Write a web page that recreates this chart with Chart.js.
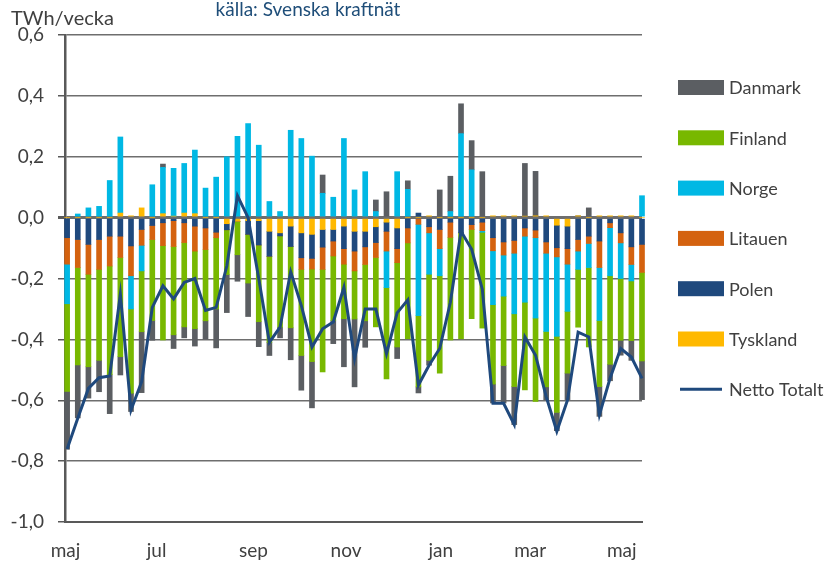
<!DOCTYPE html>
<html>
<head>
<meta charset="utf-8">
<script src="https://cdn.jsdelivr.net/npm/chart.js@4/dist/chart.umd.min.js"></script>
<style>
  html, body { margin: 0; padding: 0; background: #fff; }
  #wrap { width: 831px; height: 567px; position: relative; }
</style>
</head>
<body>
<div id="wrap"><canvas id="flowChart"></canvas></div>
<script>
// Weekly net exchange per country, TWh/vecka (week 0 = beginning of May)
const tyskland = [0, 0, 0, 0, 0, 0.015, 0.006, 0.032, 0, 0.013,
    0.005, 0.015, 0.013, 0, 0, -0.02, -0.012, -0.01, -0.01, -0.045,
    -0.05, -0.028, -0.05, -0.055, -0.039, -0.039, -0.028, -0.045, -0.045, -0.03,
    -0.015, -0.034, 0, 0, 0.006, 0, 0, 0, 0, 0,
    0.006, 0.006, 0.006, 0.005, 0.006, 0.006, -0.025, -0.028, 0.006, 0,
    0.006, 0.006, 0.006, 0.006, 0];
const polen = [-0.066, -0.072, -0.088, -0.072, -0.061, -0.061, -0.093, -0.039, -0.026, -0.017,
    -0.01, -0.017, -0.028, -0.034, -0.048, -0.02, 0, -0.045, -0.08, -0.082,
    -0.01, -0.067, -0.082, -0.079, -0.058, -0.038, -0.074, -0.065, -0.051, -0.052,
    -0.03, -0.068, -0.034, 0.015, -0.03, -0.039, -0.015, -0.05, -0.023, -0.015,
    -0.066, -0.08, -0.075, -0.034, -0.041, -0.08, -0.074, -0.074, -0.072, -0.061,
    -0.077, -0.017, -0.05, -0.096, -0.088];
const litauen = [-0.087, -0.092, -0.098, -0.098, -0.098, -0.07, -0.098, -0.052, -0.046, -0.075,
    -0.085, -0.065, -0.082, -0.071, -0.018, 0, 0, 0, 0, 0,
    0, 0, -0.038, -0.035, -0.073, -0.049, -0.051, -0.065, -0.058, -0.049,
    -0.065, -0.046, -0.049, -0.022, -0.02, -0.063, -0.05, 0, -0.016, -0.028,
    -0.043, -0.043, -0.042, -0.027, -0.025, -0.037, -0.03, -0.051, -0.038, -0.024,
    -0.087, -0.016, -0.033, -0.058, -0.092];
const norge = [-0.13, 0.012, 0.032, 0.037, 0.122, 0.25, -0.109, -0.084, 0.108, 0.152,
    0.157, 0.163, 0.209, 0.097, 0.133, 0.2, 0.267, 0.309, 0.238, 0.053,
    0.02, 0.287, 0.26, 0.202, 0.08, 0.067, 0.26, 0.091, 0.151, 0.02,
    -0.12, 0.151, 0.093, -0.3, -0.136, -0.089, 0.02, 0.276, 0.157, -0.005,
    -0.177, -0.135, -0.199, -0.217, -0.264, -0.257, -0.261, -0.155, -0.06, -0.079,
    -0.174, -0.158, -0.117, -0.054, 0.072];
const finland = [-0.288, -0.32, -0.304, -0.299, -0.357, -0.326, -0.277, -0.2, -0.266, -0.31,
    -0.29, -0.277, -0.255, -0.234, -0.234, -0.147, -0.11, -0.16, -0.252, -0.283,
    -0.3, -0.267, -0.283, -0.304, -0.337, -0.212, -0.179, -0.158, -0.185, -0.228,
    -0.3, -0.277, -0.315, -0.234, -0.283, -0.32, -0.337, -0.348, -0.293, -0.315,
    -0.261, -0.228, -0.239, -0.288, -0.274, -0.182, -0.25, -0.203, -0.19, -0.261,
    -0.217, -0.291, -0.203, -0.196, -0.291];
const danmark = [-0.19, -0.174, -0.103, -0.103, -0.128, -0.06, -0.06, -0.2, -0.065, 0.011,
    -0.045, -0.036, -0.057, -0.06, -0.128, -0.125, -0.087, -0.11, -0.082, -0.043,
    -0.035, -0.105, -0.114, -0.152, 0.06, -0.076, -0.158, -0.223, -0.087, 0.038,
    0.085, -0.038, 0.028, -0.02, -0.016, 0.091, 0.116, 0.098, 0.096, 0.151,
    -0.062, -0.123, -0.125, 0.173, 0.146, -0.043, -0.06, -0.087, 0, 0.032,
    -0.098, -0.054, -0.049, -0.065, -0.127];
const nettoTotalt = [-0.76, -0.659, -0.561, -0.526, -0.52, -0.251, -0.632, -0.539, -0.295, -0.224,
    -0.267, -0.213, -0.2, -0.305, -0.295, -0.159, 0.072, 0.0, -0.2, -0.41,
    -0.36, -0.178, -0.289, -0.425, -0.365, -0.343, -0.229, -0.463, -0.3, -0.3,
    -0.447, -0.313, -0.27, -0.55, -0.485, -0.43, -0.278, -0.045, -0.104, -0.235,
    -0.61, -0.61, -0.68, -0.392, -0.452, -0.588, -0.702, -0.6, -0.376, -0.392,
    -0.648, -0.528, -0.43, -0.458, -0.528];

// month labels and where they sit, in weeks from the first bar
const monthLabels = ['maj', 'jul', 'sep', 'nov', 'jan', 'mar', 'maj'];
const monthTicks = [-0.15, 8.4, 17.5, 26.2, 35.1, 43.5, 52.1];

const weekIdx = danmark.map((_, i) => i);
const TXT = '#404040';

function pts(arr) {
    return arr.map((v, i) => ({ x: weekIdx[i], y: v }));
}

function barSet(label, data, color) {
    return {
        type: 'bar',
        label: label,
        data: pts(data),
        backgroundColor: color,
        borderWidth: 0,
        barThickness: 5,
        clip: false
    };
}

// legend drawn by hand so it can sit where the original has it
const sideLegend = {
    id: 'sideLegend',
    afterDraw(chart) {
        const ctx = chart.ctx;
        const order = ['Danmark', 'Finland', 'Norge', 'Litauen', 'Polen', 'Tyskland', 'Netto Totalt'];
        ctx.save();
        ctx.font = '18px Lato';
        ctx.textBaseline = 'middle';
        ctx.textAlign = 'left';
        order.forEach((name, i) => {
            const ds = chart.data.datasets.find(d => d.label === name);
            const y = 87.5 + i * 50.3;
            if (ds.type === 'line') {
                ctx.strokeStyle = ds.borderColor;
                ctx.lineWidth = 3;
                ctx.beginPath();
                ctx.moveTo(680, y);
                ctx.lineTo(722, y);
                ctx.stroke();
            } else {
                ctx.fillStyle = ds.backgroundColor;
                ctx.fillRect(678, y - 7.5, 46, 15);
            }
            ctx.fillStyle = TXT;
            ctx.fillText(name, 729, y + 1);
        });

        ctx.font = '20px Lato';
        ctx.fillStyle = TXT;
        ctx.fillText('TWh/vecka', 11, 19);
        ctx.font = '19px Lato';
        ctx.fillStyle = '#1f4e79';
        ctx.textAlign = 'center';
        ctx.fillText('källa: Svenska kraftnät', 308, 10);
        ctx.restore();
    }
};

const ctx = document.getElementById('flowChart');
new Chart(ctx, {
    data: {
        datasets: [
            {
                type: 'line',
                label: 'Netto Totalt',
                data: pts(nettoTotalt),
                borderColor: '#1f497d',
                borderWidth: 3,
                pointRadius: 0,
                tension: 0,
                order: -1,
                stack: 'net',
                clip: false
            },
            barSet('Tyskland', tyskland, '#ffb900'),
            barSet('Polen', polen, '#1f497d'),
            barSet('Litauen', litauen, '#d4620f'),
            barSet('Norge', norge, '#00b8e4'),
            barSet('Finland', finland, '#78b800'),
            barSet('Danmark', danmark, '#5b5e62')
        ]
    },
    options: {
        responsive: true,
        maintainAspectRatio: false,
        animation: false,
        layout: { padding: { top: 35, right: 189, left: 0, bottom: 0 } },
        plugins: {
            legend: { display: false },
            tooltip: { enabled: false }
        },
        scales: {
            x: {
                type: 'linear',
                min: -0.2,
                max: 54,
                offset: false,
                stacked: true,
                afterFit: s => { s.height = 45; },
                afterBuildTicks: s => { s.ticks = monthTicks.map(v => ({ value: v })); },
                grid: { display: false, drawTicks: false, offset: false },
                border: { display: true, color: '#595959', width: 2 },
                ticks: {
                    autoSkip: false,
                    maxRotation: 0,
                    padding: 17,
                    color: TXT,
                    font: { family: 'Lato', size: 19 },
                    callback: (v, i) => monthLabels[i]
                }
            },
            y: {
                min: -1.0,
                max: 0.6,
                stacked: true,
                afterFit: s => { s.width = 65; },
                grid: {
                    color: '#6e6e6e',
                    lineWidth: c => (c.tick && Math.abs(c.tick.value) < 1e-9 ? 3 : 1.5),
                    tickColor: '#595959',
                    tickLength: 7
                },
                border: { display: true, color: '#595959', width: 2.5 },
                ticks: {
                    stepSize: 0.2,
                    padding: 14,
                    color: TXT,
                    font: { family: 'Lato', size: 19 },
                    callback: v => (Math.round(v * 10) / 10).toFixed(1).replace('.', ',')
                }
            }
        }
    },
    plugins: [sideLegend]
});
</script>
</body>
</html>
